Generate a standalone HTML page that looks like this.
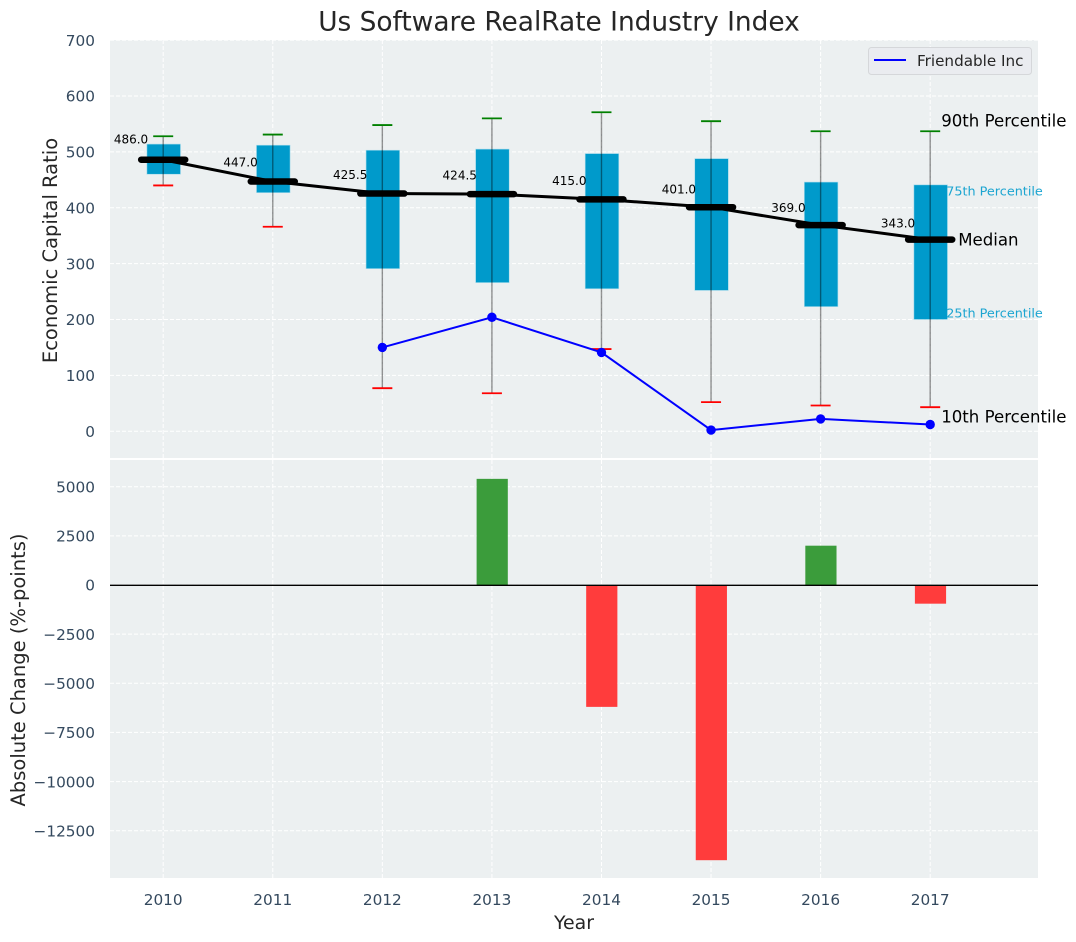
<!DOCTYPE html>
<html>
<head>
<meta charset="utf-8">
<title>Us Software RealRate Industry Index</title>
<style>
html,body{margin:0;padding:0;background:#fff;width:1076px;height:942px;overflow:hidden}
svg{display:block;font-family:"DejaVu Sans","Liberation Sans",sans-serif}
</style>
</head>
<body>
<svg id="chart" width="1076" height="942" viewBox="0 0 1076 942" xmlns="http://www.w3.org/2000/svg">
  <rect x="110" y="40" width="928" height="418" fill="#ecf0f1"/>
  <rect x="110" y="460" width="928" height="418" fill="#ecf0f1"/>
  <g id="grid"></g>
  <g id="bars"></g>
  <g id="boxes"></g>
  <g id="medians"></g>
  <g id="peer"></g>
  <g id="labels"></g>
  <g id="ticks"></g>
  <text x="559" y="30.5" text-anchor="middle" font-size="26.4" fill="#262626">Us Software RealRate Industry Index</text>
  <text x="574" y="929" text-anchor="middle" font-size="18.9" fill="#262626">Year</text>
  <text transform="translate(57,250.5) rotate(-90)" text-anchor="middle" font-size="19.5" fill="#262626">Economic Capital Ratio</text>
  <text transform="translate(25,670) rotate(-90)" text-anchor="middle" font-size="19.5" fill="#262626">Absolute Change (%-points)</text>
  <g>
    <rect x="868.5" y="47.5" width="163" height="27" rx="3" fill="#eaecf0" stroke="#d5d7da"/>
    <line x1="874" y1="60" x2="906" y2="60" stroke="#0000ff" stroke-width="2"/>
    <text x="917" y="66" font-size="15.2" fill="#262626">Friendable Inc</text>
  </g>
</svg>
<script>
const years = [2010, 2011, 2012, 2013, 2014, 2015, 2016, 2017];
const p90 = [528, 531, 548, 560, 571, 555, 537, 537];
const p75 = [514, 512, 503, 505, 497, 488, 446, 441];
const median = [486, 447, 425.5, 424.5, 415, 401, 369, 343];
const p25 = [460, 427, 291, 266, 255, 252, 223, 200];
const p10 = [440, 366, 77, 68, 147, 52, 46, 43];
const friendable = [null, null, 150, 204, 141, 2, 22, 12];
const changes = [0, 0, 0, 5400, -6200, -14000, 2000, -950];
const topTicks = [0, 100, 200, 300, 400, 500, 600, 700];
const bottomTicks = [5000, 2500, 0, -2500, -5000, -7500, -10000, -12500];

const NS = 'http://www.w3.org/2000/svg';
const x = function (year) { return 163.2 + (year - 2010) * 109.57; };
const yTop = function (value) { return 431.2 - value * 0.5586; };
const yBottom = function (value) { return 585 - value * 0.019657; };

function make(parent, tag, attrs, text) {
  const el = document.createElementNS(NS, tag);
  for (const key in attrs) { el.setAttribute(key, attrs[key]); }
  if (text !== undefined) { el.textContent = text; }
  document.getElementById(parent).appendChild(el);
  return el;
}
function fmt(value) { return String(value).replace('-', '\u2212'); }

years.forEach(function (year) {
  const line = make('grid', 'path', { d: 'M' + x(year) + ' 40V458M' + x(year) + ' 460V878', stroke: '#fff', 'stroke-width': 1, 'stroke-dasharray': '4 2', fill: 'none' });
  
  
  const label = make('ticks', 'text', { x: x(year), y: 905, 'text-anchor': 'middle', 'font-size': 15.3, fill: '#34495e' }, year);
  
  
});
topTicks.forEach(function (tick) {
  const line = make('grid', 'line', { x1: 110, x2: 1038, y1: yTop(tick), y2: yTop(tick), stroke: '#fff', 'stroke-width': 1, 'stroke-dasharray': '4 2' });
  
  
  const label = make('ticks', 'text', { x: 95, y: yTop(tick) + 5.7, 'text-anchor': 'end', 'font-size': 15.3, fill: '#34495e' }, fmt(tick));
  
  
});
bottomTicks.forEach(function (tick) {
  const line = make('grid', 'line', { x1: 110, x2: 1038, y1: yBottom(tick), y2: yBottom(tick), stroke: '#fff', 'stroke-width': 1, 'stroke-dasharray': '4 2' });
  
  
  const label = make('ticks', 'text', { x: 95, y: yBottom(tick) + 5.7, 'text-anchor': 'end', 'font-size': 15.3, fill: '#34495e' }, fmt(tick));
  
  
});

changes.forEach(function (value, i) {
  if (!value) { return; }
  const top = yBottom(Math.max(value, 0));
  const bottom = yBottom(Math.min(value, 0));
  const bar = make('bars', 'rect', { x: x(years[i]) - 15.3, y: top, width: 31.2, height: bottom - top, fill: value > 0 ? '#3b9c3b' : '#ff3c3c' });
  
  
});
const zero = make('bars', 'line', { x1: 110, x2: 1038, y1: yBottom(0) + 0.3, y2: yBottom(0) + 0.3, stroke: '#000', 'stroke-width': 1.4 });



years.forEach(function (year, i) {
  const cx = x(year);
  const box = make('boxes', 'rect', { x: cx - 16.3, y: yTop(p75[i]), width: 33.6, height: yTop(p25[i]) - yTop(p75[i]), fill: '#009acb', stroke: '#a8dcec', 'stroke-width': 0.6 });
  
  
  const whisker = make('boxes', 'line', { x1: cx, x2: cx, y1: yTop(p90[i]), y2: yTop(p10[i]), stroke: '#000', 'stroke-opacity': 0.42, 'stroke-width': 1.4 });
  
  
  const high = make('boxes', 'line', { x1: cx - 10, x2: cx + 10, y1: yTop(p90[i]), y2: yTop(p90[i]), stroke: '#008000', 'stroke-width': 1.8 });
  
  
  const low = make('boxes', 'line', { x1: cx - 10, x2: cx + 10, y1: yTop(p10[i]), y2: yTop(p10[i]), stroke: '#ff0000', 'stroke-width': 1.8 });
  
  
});

const medianLine = make('medians', 'polyline', { points: years.map(function (year, i) { return x(year) + ',' + yTop(median[i]); }).join(' '), fill: 'none', stroke: '#000', 'stroke-width': 3 });


years.forEach(function (year, i) {
  const mark = make('medians', 'line', { x1: x(year) - 22, x2: x(year) + 22, y1: yTop(median[i]), y2: yTop(median[i]), stroke: '#000', 'stroke-width': 6.5, 'stroke-linecap': 'round' });
  
  
  const label = make('labels', 'text', { x: x(year) - 15, y: yTop(median[i] + median[i] * 0.05 + 11.5) + 3.7, 'text-anchor': 'end', 'font-size': 12, fill: '#000' }, median[i].toFixed(1));
  
  
});

const peerPoints = [];
years.forEach(function (year, i) {
  if (friendable[i] !== null) { peerPoints.push(x(year) + ',' + yTop(friendable[i])); }
});
const peerLine = make('peer', 'polyline', { points: peerPoints.join(' '), fill: 'none', stroke: '#0000ff', 'stroke-width': 2 });


years.forEach(function (year, i) {
  if (friendable[i] === null) { return; }
  const dot = make('peer', 'circle', { cx: x(year), cy: yTop(friendable[i]), r: 4.7, fill: '#0000ff' });
  
  
});

const last = years.length - 1;
const lastX = x(years[last]);
const a90 = make('labels', 'text', { x: lastX + 11, y: yTop(p90[last]) - 4.5, 'font-size': 16.6, fill: '#000' }, '90th Percentile');


const a75 = make('labels', 'text', { x: lastX + 16, y: yTop(p75[last]) + 10.5, 'font-size': 12.8, fill: '#1ca5d1' }, '75th Percentile');


const aMed = make('labels', 'text', { x: lastX + 28, y: yTop(median[last]) + 6, 'font-size': 16.6, fill: '#000' }, 'Median');


const a25 = make('labels', 'text', { x: lastX + 16, y: yTop(p25[last]) - 2, 'font-size': 12.8, fill: '#1ca5d1' }, '25th Percentile');


const a10 = make('labels', 'text', { x: lastX + 11, y: yTop(p10[last]) + 15.5, 'font-size': 16.6, fill: '#000' }, '10th Percentile');


</script>
</body>
</html>
